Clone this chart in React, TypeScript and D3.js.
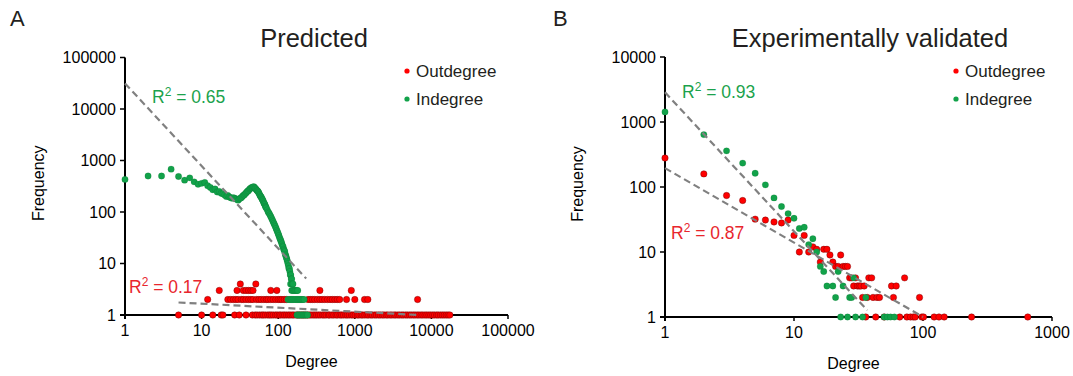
import * as d3 from 'd3';

const FONT = 'Arial, "Liberation Sans", Helvetica, sans-serif';
const RED = '#ff0000';
const GREEN = '#12a24a';
const RED_TXT = '#e8262d';
const GREEN_TXT = '#1ba24c';
const INK = '#231f20';

// ---------- panel A : predicted ----------
const predTitle = 'Predicted';
const predTicksX = [1, 10, 100, 1000, 10000, 100000];
const predTicksY = [1, 10, 100, 1000, 10000, 100000];

// [degree, frequency]
const predIndegree: [number, number][] = [
  [1, 430], [2, 500], [3, 500], [4, 680], [5, 490], [6, 415], [7, 460], [8, 385], [9, 345], [10, 360],
  [11, 375], [12, 325], [13, 300], [14, 270], [15, 280], [16, 245], [17, 250], [18, 230], [19, 225], [20, 215],
  [21, 200], [22, 210], [23, 195], [24, 190], [25, 185], [26, 190], [27, 185], [28, 180], [29, 175], [30, 170],
  [31, 180], [32, 185], [33, 190], [34, 200], [35, 210], [36, 215], [37, 225], [38, 235], [39, 245], [40, 255],
  [41, 260], [42, 275], [43, 285], [44, 290], [45, 300], [46, 295], [47, 305], [48, 310], [49, 300], [50, 290],
  [51, 280], [52, 270], [53, 260], [54, 255], [55, 245], [56, 235], [57, 220], [58, 210], [59, 200], [60, 195],
  [61, 185], [62, 175], [63, 170], [64, 160], [65, 150], [66, 145], [67, 140], [68, 130], [69, 125], [70, 120],
  [72, 110], [74, 100], [76, 95], [78, 88], [80, 82], [82, 76], [84, 70], [86, 65], [88, 60], [90, 56],
  [92, 52], [94, 48], [96, 44], [98, 41], [100, 38], [102, 35], [104, 32], [106, 30], [108, 28], [110, 26],
  [112, 24], [114, 22], [116, 21], [118, 19], [120, 18], [122, 17], [124, 15], [126, 14], [128, 13], [130, 12],
  [132, 11], [134, 10], [136, 9], [138, 8], [140, 8], [142, 7], [144, 6], [146, 6], [148, 5], [150, 5],
  [145, 4], [152, 4], [156, 4], [150, 3], [155, 3], [160, 3], [165, 3], [170, 3], [176, 3], [180, 3],
  [134, 2], [139, 2], [144, 2], [149, 2], [154, 2], [160, 2], [166, 2], [172, 2], [178, 2], [184, 2],
  [190, 2], [196, 2], [203, 2], [210, 2], [218, 2],
  [176, 1], [181, 1], [186, 1], [191, 1], [197, 1], [203, 1], [209, 1], [215, 1], [222, 1], [229, 1], [236, 1], [242, 1],
];

const predOutdeg1 = [
  5, 10, 14, 18, 19, 27, 31, 38, 46, 50, 53, 57, 61, 64, 68, 73, 77, 81, 86, 92, 97, 103, 108, 115, 121, 128,
  136, 143, 152, 160, 171, 180, 191, 203, 214, 226, 241, 254, 268, 285, 301, 317, 336, 355, 380, 398, 421, 452,
  470, 503, 531, 569, 597, 640, 672, 711, 760, 798, 846, 905, 951, 1010, 1080, 1132, 1210, 1268, 1350, 1442,
  1515, 1620, 1698, 1815, 1912, 2040, 2150, 2290, 2410, 2575, 2710, 2890, 3050, 3250, 3420, 3650, 3850, 4100,
  4320, 4610, 4860, 5170, 5460, 5810, 6130, 6520, 6890, 7330, 7740, 8240, 8700, 9250, 9780, 10400, 10980,
  11700, 12300, 13100, 13900, 14700, 15600, 16500, 17400,
];
const predOutdeg2 = [
  12, 22, 24, 26, 28, 30, 33, 35, 38, 41, 44, 47, 52, 56, 60, 65, 70, 74, 80, 86, 93, 100, 106, 112, 120, 128,
  245, 262, 280, 300, 325, 350, 375, 405, 440, 475, 510, 550, 590, 635, 780, 1000, 1340, 1480, 6600,
];
const predOutdeg3 = [17, 29, 35, 38, 41, 44, 47, 80, 96, 350, 900];
const predOutdeg4 = [32, 51];
const predOutdegree: [number, number][] = [
  ...predOutdeg1.map((d) => [d, 1] as [number, number]),
  ...predOutdeg2.map((d) => [d, 2] as [number, number]),
  ...predOutdeg3.map((d) => [d, 3] as [number, number]),
  ...predOutdeg4.map((d) => [d, 4] as [number, number]),
];

const predFitIn: [number, number][] = [[1, 31400], [232, 5.1]];
const predFitOut: [number, number][] = [[5, 1.75], [6900, 1]];
const predR2In = '0.65';
const predR2Out = '0.17';

// ---------- panel B : experimentally validated ----------
const valTitle = 'Experimentally validated';
const valTicksX = [1, 10, 100, 1000];
const valTicksY = [1, 10, 100, 1000, 10000];

const valIndegree: [number, number][] = [
  [1, 1430], [2, 640], [3, 360], [4, 233], [5, 163], [6, 108], [7, 68], [8, 50], [9, 39], [10, 33],
  [11, 23], [12, 24], [13, 13], [14, 16], [15, 10], [16, 6], [17, 5], [18, 3], [20, 3], [21, 2],
  [22, 5], [23, 1], [24, 3], [26, 1], [27, 2], [28, 2], [29, 4], [30, 1], [34, 1], [36, 2],
  [50, 1], [53, 1], [56, 1], [60, 1],
];
const valOutdegree: [number, number][] = [
  [1, 279], [2, 159], [3, 74], [4, 62], [5, 32], [6, 31], [7, 29], [8, 28], [9, 31], [10, 18],
  [11, 10], [12, 18], [13, 10], [14, 12], [15, 11], [16, 7], [17, 11], [18, 11], [19, 9], [20, 7],
  [21, 6], [22, 6], [23, 9], [24, 6], [25, 6], [26, 6], [27, 4], [28, 4], [29, 3], [30, 4],
  [31, 3], [32, 3], [33, 3], [34, 2], [35, 3], [36, 1], [37, 2], [38, 4], [40, 4], [41, 2],
  [43, 1], [44, 2], [46, 2], [50, 1], [57, 3], [59, 2], [62, 3], [66, 1], [72, 4], [75, 1],
  [80, 1], [84, 1], [87, 1], [94, 2], [98, 1], [101, 1], [122, 1], [133, 1], [146, 1], [238, 1], [649, 1],
];
const valFitIn: [number, number][] = [[1, 2860], [37, 1.27]];
const valFitOut: [number, number][] = [[1, 195], [100, 1]];
const valR2In = '0.93';
const valR2Out = '0.87';

type PanelProps = {
  letter: string;
  letterX: number;
  title: string;
  titleX: number;
  xRange: [number, number];
  yRange: [number, number];
  xTicks: number[];
  yTicks: number[];
  outdeg: [number, number][];
  indeg: [number, number][];
  fitOut: [number, number][];
  fitIn: [number, number][];
  r2In: string;
  r2Out: string;
  r2InPos: [number, number];
  r2OutPos: [number, number];
  legendX: number;
  yLabelX: number;
  xLabelY: number;
};

function R2({ x, y, value, color }: { x: number; y: number; value: string; color: string }) {
  return (
    <text x={x} y={y} fill={color} fontSize={17.5} fontFamily={FONT}>
      R<tspan dy={-7} fontSize={12}>2</tspan>
      <tspan dy={7}>{` = ${value}`}</tspan>
    </text>
  );
}

function Panel(p: PanelProps) {
  const x = d3.scaleLog().domain([p.xTicks[0], p.xTicks[p.xTicks.length - 1]]).range(p.xRange);
  const y = d3.scaleLog().domain([p.yTicks[0], p.yTicks[p.yTicks.length - 1]]).range(p.yRange);
  const line = d3.line<[number, number]>().x((d) => x(d[0])).y((d) => y(d[1]));
  const [xl, xr] = p.xRange;
  const [yb, yt] = p.yRange;
  const dash = { stroke: '#808080', strokeWidth: 2.2, strokeDasharray: '7 4', fill: 'none' };

  return (
    <g fontFamily={FONT}>
      <text x={p.letterX} y={26} fontSize={22} fill={INK}>{p.letter}</text>
      <text x={p.titleX} y={47} fontSize={25.5} fill={INK} textAnchor="middle">{p.title}</text>

      {/* axes */}
      <line x1={xl} x2={xl} y1={yt} y2={yb + 4} stroke="#000" strokeWidth={2} />
      <line x1={xl - 5} x2={xr} y1={yb} y2={yb} stroke="#000" strokeWidth={2} />
      {p.yTicks.map((t) => (
        <g key={'y' + t}>
          <line x1={xl - 5} x2={xl} y1={y(t)} y2={y(t)} stroke="#000" strokeWidth={1.5} />
          <text x={xl - 9} y={y(t)} dy="0.35em" textAnchor="end" fontSize={16} fill="#000">{t}</text>
        </g>
      ))}
      {p.xTicks.map((t) => (
        <g key={'x' + t}>
          <line x1={x(t)} x2={x(t)} y1={yb} y2={yb + 4} stroke="#000" strokeWidth={1.5} />
          <text x={x(t)} y={yb + 21} textAnchor="middle" fontSize={16} fill="#000">{t}</text>
        </g>
      ))}

      <text
        transform={`translate(${p.yLabelX},${(yt + yb) / 2 - 3}) rotate(-90)`}
        textAnchor="middle"
        fontSize={16}
        fill="#000"
      >
        Frequency
      </text>
      <text x={(xl + xr) / 2 - 5} y={p.xLabelY} textAnchor="middle" fontSize={16} fill="#000">Degree</text>

      {/* points */}
      {p.outdeg.map((d, i) => (
        <circle key={'o' + i} cx={x(d[0])} cy={y(d[1])} r={3.2} fill={RED} stroke="rgba(100,0,0,0.5)" strokeWidth={0.8} />
      ))}
      {p.indeg.map((d, i) => (
        <circle key={'i' + i} cx={x(d[0])} cy={y(d[1])} r={3.2} fill={GREEN} stroke="rgba(0,80,30,0.25)" strokeWidth={0.6} />
      ))}

      {/* power-law fits */}
      <path d={line(p.fitIn) ?? ''} {...dash} />
      <path d={line(p.fitOut) ?? ''} {...dash} />

      <R2 x={p.r2InPos[0]} y={p.r2InPos[1]} value={p.r2In} color={GREEN_TXT} />
      <R2 x={p.r2OutPos[0]} y={p.r2OutPos[1]} value={p.r2Out} color={RED_TXT} />

      {/* legend */}
      <circle cx={p.legendX} cy={71} r={2.6} fill={RED} />
      <text x={p.legendX + 9} y={77} fontSize={17} fill={INK}>Outdegree</text>
      <circle cx={p.legendX} cy={99} r={2.6} fill={GREEN} />
      <text x={p.legendX + 9} y={105} fontSize={17} fill={INK}>Indegree</text>
    </g>
  );
}

export default function App() {
  return (
    <svg
      width={1073}
      height={376}
      style={{ position: 'absolute', left: 0, top: 0, background: '#fff' }}
    >
      <Panel
        letter="A"
        letterX={10}
        title={predTitle}
        titleX={314}
        xRange={[125, 508]}
        yRange={[315, 57.5]}
        xTicks={predTicksX}
        yTicks={predTicksY}
        outdeg={predOutdegree}
        indeg={predIndegree}
        fitOut={predFitOut}
        fitIn={predFitIn}
        r2In={predR2In}
        r2Out={predR2Out}
        r2InPos={[152, 103]}
        r2OutPos={[129, 293]}
        legendX={407}
        yLabelX={44}
        xLabelY={367}
      />
      <Panel
        letter="B"
        letterX={553}
        title={valTitle}
        titleX={870}
        xRange={[665, 1052]}
        yRange={[317, 57]}
        xTicks={valTicksX}
        yTicks={valTicksY}
        outdeg={valOutdegree}
        indeg={valIndegree}
        fitOut={valFitOut}
        fitIn={valFitIn}
        r2In={valR2In}
        r2Out={valR2Out}
        r2InPos={[682, 98]}
        r2OutPos={[671, 239]}
        legendX={956}
        yLabelX={583}
        xLabelY={369}
      />
    </svg>
  );
}
